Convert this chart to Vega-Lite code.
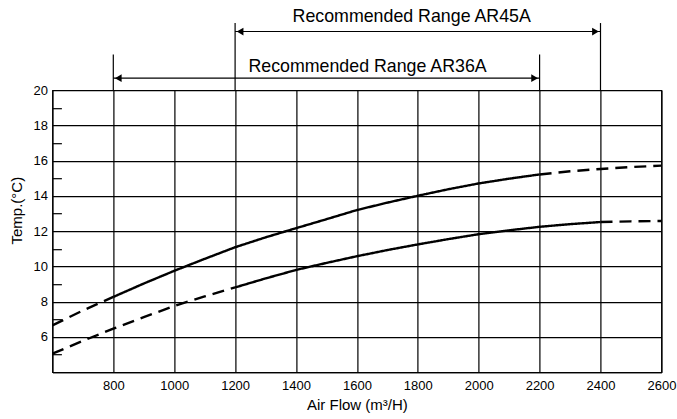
{
  "$schema": "https://vega.github.io/schema/vega-lite/v6.json",
  "autosize": {"type": "none"},
  "width": 609,
  "height": 282,
  "padding": {"left": 52.4, "top": 90.2, "right": 15.6, "bottom": 46.8},
  "background": "white",
  "config": {
    "font": "Liberation Sans",
    "view": {"stroke": "black", "strokeWidth": 1.2}
  },
  "datasets": {
    "curves": [
      {"seg": "UA", "style": "dashed", "x": 600, "y": 6.66},
      {"seg": "UA", "style": "dashed", "x": 700, "y": 7.5},
      {"seg": "UA", "style": "dashed", "x": 800, "y": 8.27},
      {"seg": "US", "style": "solid", "x": 800, "y": 8.27},
      {"seg": "US", "style": "solid", "x": 900, "y": 9.03},
      {"seg": "US", "style": "solid", "x": 1000, "y": 9.75},
      {"seg": "US", "style": "solid", "x": 1100, "y": 10.43},
      {"seg": "US", "style": "solid", "x": 1200, "y": 11.09},
      {"seg": "US", "style": "solid", "x": 1300, "y": 11.65},
      {"seg": "US", "style": "solid", "x": 1400, "y": 12.17},
      {"seg": "US", "style": "solid", "x": 1500, "y": 12.68},
      {"seg": "US", "style": "solid", "x": 1600, "y": 13.2},
      {"seg": "US", "style": "solid", "x": 1700, "y": 13.62},
      {"seg": "US", "style": "solid", "x": 1800, "y": 14.01},
      {"seg": "US", "style": "solid", "x": 1900, "y": 14.38},
      {"seg": "US", "style": "solid", "x": 2000, "y": 14.71},
      {"seg": "US", "style": "solid", "x": 2100, "y": 14.98},
      {"seg": "US", "style": "solid", "x": 2200, "y": 15.22},
      {"seg": "UB", "style": "dashed", "x": 2200, "y": 15.22},
      {"seg": "UB", "style": "dashed", "x": 2300, "y": 15.4},
      {"seg": "UB", "style": "dashed", "x": 2400, "y": 15.53},
      {"seg": "UB", "style": "dashed", "x": 2500, "y": 15.64},
      {"seg": "UB", "style": "dashed", "x": 2600, "y": 15.72},
      {"seg": "LA", "style": "dashed", "x": 600, "y": 5.05},
      {"seg": "LA", "style": "dashed", "x": 700, "y": 5.78},
      {"seg": "LA", "style": "dashed", "x": 800, "y": 6.47},
      {"seg": "LA", "style": "dashed", "x": 900, "y": 7.12},
      {"seg": "LA", "style": "dashed", "x": 1000, "y": 7.76},
      {"seg": "LA", "style": "dashed", "x": 1100, "y": 8.3},
      {"seg": "LA", "style": "dashed", "x": 1200, "y": 8.81},
      {"seg": "LS", "style": "solid", "x": 1200, "y": 8.81},
      {"seg": "LS", "style": "solid", "x": 1300, "y": 9.32},
      {"seg": "LS", "style": "solid", "x": 1400, "y": 9.8},
      {"seg": "LS", "style": "solid", "x": 1500, "y": 10.2},
      {"seg": "LS", "style": "solid", "x": 1600, "y": 10.58},
      {"seg": "LS", "style": "solid", "x": 1700, "y": 10.93},
      {"seg": "LS", "style": "solid", "x": 1800, "y": 11.25},
      {"seg": "LS", "style": "solid", "x": 1900, "y": 11.55},
      {"seg": "LS", "style": "solid", "x": 2000, "y": 11.83},
      {"seg": "LS", "style": "solid", "x": 2100, "y": 12.05},
      {"seg": "LS", "style": "solid", "x": 2200, "y": 12.25},
      {"seg": "LS", "style": "solid", "x": 2300, "y": 12.4},
      {"seg": "LS", "style": "solid", "x": 2400, "y": 12.52},
      {"seg": "LB", "style": "dashed", "x": 2400, "y": 12.52},
      {"seg": "LB", "style": "dashed", "x": 2500, "y": 12.56},
      {"seg": "LB", "style": "dashed", "x": 2600, "y": 12.58}
    ],
    "verticals": [
      {"x": 800, "y": 20, "y2": 22.03},
      {"x": 2200, "y": 20, "y2": 22.03},
      {"x": 1200, "y": 20, "y2": 23.81},
      {"x": 2400, "y": 20, "y2": 23.81}
    ],
    "arrows": [
      {"x": 800, "x2": 2200, "y": 20.68},
      {"x": 1200, "x2": 2400, "y": 23.33}
    ],
    "leftHeads": [
      {"x": 800, "y": 20.68},
      {"x": 1200, "y": 23.33}
    ],
    "rightHeads": [
      {"x": 2200, "y": 20.68},
      {"x": 2400, "y": 23.33}
    ],
    "labels": [
      {"x": 1635, "y": 21.34, "text": "Recommended Range AR36A"},
      {"x": 1780, "y": 24.15, "text": "Recommended Range AR45A"}
    ]
  },
  "encoding": {
    "x": {
      "field": "x", "type": "quantitative",
      "scale": {"domain": [600, 2600], "nice": false, "zero": false},
      "axis": {
        "values": [800, 1000, 1200, 1400, 1600, 1800, 2000, 2200, 2400, 2600],
        "format": "d",
        "grid": true, "gridColor": "black", "gridWidth": 1.2, "gridOpacity": 1,
        "domainColor": "black", "domainWidth": 1.2,
        "ticks": false, "labelPadding": 7, "labelFlush": false, "labelOverlap": false,
        "labelFontSize": 13, "labelColor": "black",
        "title": "Air Flow (m³/H)", "titlePadding": 5, "titleFontSize": 15, "titleFontWeight": "normal", "titleColor": "black"
      }
    },
    "y": {
      "field": "y", "type": "quantitative",
      "scale": {"domain": [4, 20], "nice": false, "zero": false},
      "axis": {
        "values": [4, 5, 6, 7, 8, 9, 10, 11, 12, 13, 14, 15, 16, 17, 18, 19, 20],
        "grid": true, "gridColor": "black", "gridWidth": 1.2,
        "gridOpacity": {"condition": {"test": "datum.value % 2 === 0", "value": 1}, "value": 0},
        "domainColor": "black", "domainWidth": 1.2,
        "ticks": true, "tickColor": "black", "tickWidth": 1.2,
        "tickSize": {"condition": {"test": "datum.value % 2 === 1", "value": -9}, "value": 0},
        "labelExpr": "datum.value % 2 === 0 && datum.value > 4 ? datum.label : ''",
        "labelPadding": 5, "labelFlush": false, "labelOverlap": false,
        "labelFontSize": 13, "labelColor": "black",
        "title": "Temp.(°C)", "titleFontSize": 15, "titleFontWeight": "normal", "titleColor": "black",
        "titleAngle": -90, "titleAlign": "center", "titleBaseline": "middle", "titleX": -36, "titleY": 120
      }
    }
  },
  "layer": [
    {
      "data": {"name": "curves"},
      "mark": {"type": "line", "color": "black", "strokeWidth": 2.4},
      "encoding": {
        "detail": {"field": "seg"},
        "strokeDash": {
          "field": "style", "type": "nominal",
          "scale": {"domain": ["dashed", "solid"], "range": [[12, 7], [1, 0]]},
          "legend": null
        }
      }
    },
    {
      "data": {"name": "verticals"},
      "mark": {"type": "rule", "color": "black", "strokeWidth": 1.2},
      "encoding": {
        "y2": {"field": "y2"}
      }
    },
    {
      "data": {"name": "arrows"},
      "mark": {"type": "rule", "color": "black", "strokeWidth": 1.2},
      "encoding": {
        "x2": {"field": "x2"}
      }
    },
    {
      "data": {"name": "leftHeads"},
      "mark": {"type": "point", "shape": "triangle-left", "filled": true, "size": 60, "color": "black", "opacity": 1, "xOffset": 5},
      "encoding": {}
    },
    {
      "data": {"name": "rightHeads"},
      "mark": {"type": "point", "shape": "triangle-right", "filled": true, "size": 60, "color": "black", "opacity": 1, "xOffset": -5},
      "encoding": {}
    },
    {
      "data": {"name": "labels"},
      "mark": {"type": "text", "fontSize": 17.8, "color": "black", "align": "center", "baseline": "middle"},
      "encoding": {
        "text": {"field": "text"}
      }
    }
  ]
}
